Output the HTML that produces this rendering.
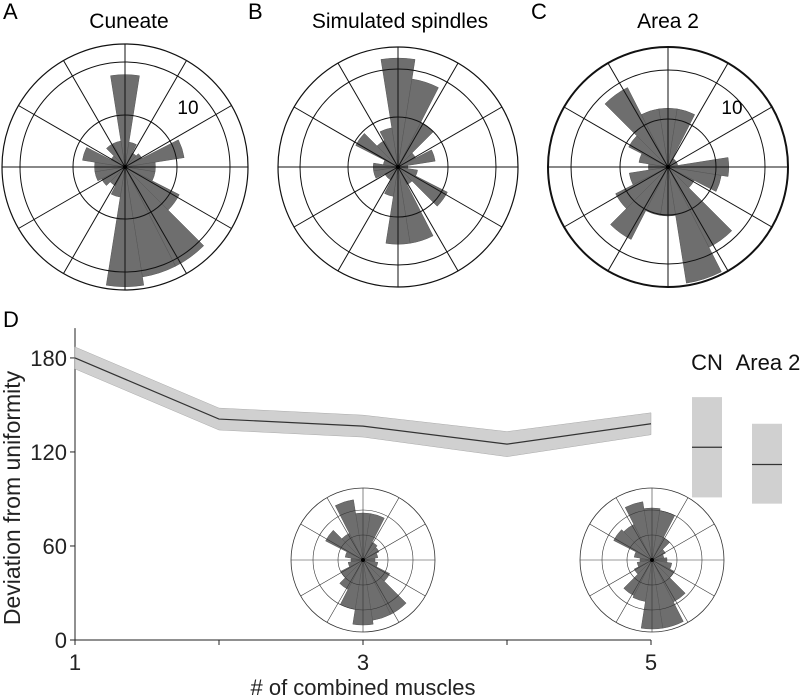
<!DOCTYPE html>
<html><head><meta charset="utf-8"><style>
html,body{margin:0;padding:0;background:#fff;}
svg{display:block;font-family:"Liberation Sans",sans-serif;}
</style></head><body>
<svg id="fig" width="800" height="698" viewBox="0 0 800 698">
<text x="3" y="19" font-size="22">A</text>
<text x="129" y="28" font-size="21" text-anchor="middle">Cuneate</text>
<text x="248" y="19" font-size="22">B</text>
<text x="400" y="28" font-size="21" text-anchor="middle">Simulated spindles</text>
<text x="531" y="19" font-size="22">C</text>
<text x="668" y="28" font-size="21" text-anchor="middle">Area 2</text>
<text x="3" y="327" font-size="22">D</text>
<g id="polars"></g>
<g id="lineChart"></g>
</svg>
<script>
// Polar histogram data (bin counts, 20 bins of 18°, clockwise from north)
const binCenters = [0,18,36,54,72,90,108,126,144,162,180,198,216,234,252,270,288,306,324,342];
const cuneateCounts = [8.8,2.4,1.5,1.8,5.7,2.9,2.9,5.8,10.6,10.6,11.4,2.9,2,2.5,2.9,2.9,4.1,1.5,2.5,2.5];
const spindleCounts = [11,9,5,2,3.8,1,2,5.6,2,7.8,7.8,3,1.5,1.5,2.5,2.5,1.5,4.8,3,4];
const area2Counts = [6,6,1,1,1,6.2,5.5,3,9.2,12,5,5,8.3,6,4,2,3,4.5,9.1,6];
const inset3Counts = [4.7,4.7,2,1.8,1.5,1.2,1.5,3,6.1,6.1,6.5,5,3.3,2.5,1.5,1.2,1.8,4.2,3,6.1];
const inset5Counts = [5.2,5,2.5,1.5,1.2,1.5,2,2.5,4.7,6.9,6.9,4.2,4,2,1.5,1.2,1.8,4.3,4,5.9];

// Line chart data
const combos = [1,2,3,4,5];
const meanDev = [180,141,136.5,125,138];
const bandHalf = [7,7,7,8,7];
const xTicks = [1,2,3,4,5];
const xTickLabels = ["1","","3","","5"];
const yTicks = [0,60,120,180];
const boxNames = ["CN","Area 2"];
const boxTop = [155,138];
const boxBottom = [91,87];
const boxMedian = [123,112];

const NS = "http://www.w3.org/2000/svg";
function mk(tag, attrs, parent){const e=document.createElementNS(NS,tag);for(const k in attrs)e.setAttribute(k,attrs[k]);parent.appendChild(e);return e;}

function polar(cx,cy,R,rings,scale,counts,name,lw,label,outerW,gridColor){
  const g = mk('g',{},document.getElementById('polars'));
  
  
  const pt=(deg,r)=>{const a=deg*Math.PI/180;return [cx+r*Math.sin(a), cy-r*Math.cos(a)];};
  counts.forEach((c,i)=>{
    const r=c*scale, a0=binCenters[i]-9, a1=binCenters[i]+9;
    const p0=pt(a0,r), p1=pt(a1,r);
    const w = mk('path',{d:`M${cx},${cy}L${p0[0]},${p0[1]}A${r},${r} 0 0 1 ${p1[0]},${p1[1]}Z`,fill:'#6e6e6e',stroke:'#555','stroke-width':0.5},g);
    
    
  });
  rings.forEach(r=>{const c=mk('circle',{cx,cy,r,fill:'none',stroke:gridColor,'stroke-width':lw},g);
    });
  const o=mk('circle',{cx,cy,r:R,fill:'none',stroke:gridColor,'stroke-width':outerW},g);
  
  for(let d=0;d<360;d+=30){const p=pt(d,R);const l=mk('line',{x1:cx,y1:cy,x2:p[0],y2:p[1],stroke:gridColor,'stroke-width':lw},g);
    }
  mk('circle',{cx,cy,r:2,fill:'#000'},g);
  if(label){const t=mk('text',{x:label[0],y:label[1],'font-size':19,'text-anchor':'middle'},g);t.textContent='10';
    }
}
polar(125,167,123,[52,105],10.5,cuneateCounts,'polar-cuneate',1,[188,114],1.2,'#111');
polar(398,167,120,[50,98],9.9,spindleCounts,'polar-simulated-spindles',1,null,1.2,'#111');
polar(668,167,120,[48,97],9.8,area2Counts,'polar-area-2',1,[732,114],2,'#111');

// Line chart
const G = document.getElementById('lineChart');
const X0=75, XS=144, Y0=640, YS=1.567;
const xs=v=>X0+(v-1)*XS, ys=v=>Y0-v*YS;
const ax=mk('path',{d:`M${X0},${ys(199)}V${Y0}H${xs(5)}`,fill:'none',stroke:'#222','stroke-width':1},G);

yTicks.forEach(v=>{mk('line',{x1:X0-5,x2:X0,y1:ys(v),y2:ys(v),stroke:'#222'},G);
  const t=mk('text',{x:X0-8,y:ys(v)+8,'font-size':22,'text-anchor':'end',fill:'#222'},G);t.textContent=v;
  });
xTicks.forEach((v,i)=>{mk('line',{x1:xs(v),x2:xs(v),y1:Y0,y2:Y0+5,stroke:'#222'},G);
  const t=mk('text',{x:xs(v),y:Y0+30,'font-size':22,'text-anchor':'middle',fill:'#222'},G);t.textContent=xTickLabels[i];
  });
const yl=mk('text',{x:0,y:0,'font-size':23,'text-anchor':'middle',fill:'#222',transform:`translate(20,${498}) rotate(-90)`},G);
yl.textContent='Deviation from uniformity';

const xl=mk('text',{x:363,y:695,'font-size':22,'text-anchor':'middle',fill:'#222'},G);
xl.textContent='# of combined muscles';

let up=combos.map((c,i)=>`${xs(c)},${ys(meanDev[i]+bandHalf[i])}`);
let dn=combos.map((c,i)=>`${xs(c)},${ys(meanDev[i]-bandHalf[i])}`).reverse();
const band=mk('polygon',{points:up.concat(dn).join(' '),fill:'#d0d0d0',stroke:'#aaa','stroke-width':0.5},G);

const line=mk('polyline',{points:combos.map((c,i)=>`${xs(c)},${ys(meanDev[i])}`).join(' '),fill:'none',stroke:'#333','stroke-width':1.2},G);

const boxX=[692,752], boxLX=[707,768];
boxNames.forEach((n,i)=>{
  const r=mk('rect',{x:boxX[i],y:ys(boxTop[i]),width:30,height:ys(boxBottom[i])-ys(boxTop[i]),fill:'#d0d0d0'},G);
  
  mk('line',{x1:boxX[i],x2:boxX[i]+30,y1:ys(boxMedian[i]),y2:ys(boxMedian[i]),stroke:'#333','stroke-width':1.2},G);
  const t=mk('text',{x:boxLX[i],y:370,'font-size':22,'text-anchor':'middle',fill:'#111'},G);t.textContent=n;
  
});
polar(363,560,72,[25,50],10,inset3Counts,'inset-polar-3',0.6,null,0.8,'#333');
polar(652,560,72,[25,50],10,inset5Counts,'inset-polar-5',0.6,null,0.8,'#333');
</script>
</body></html>
